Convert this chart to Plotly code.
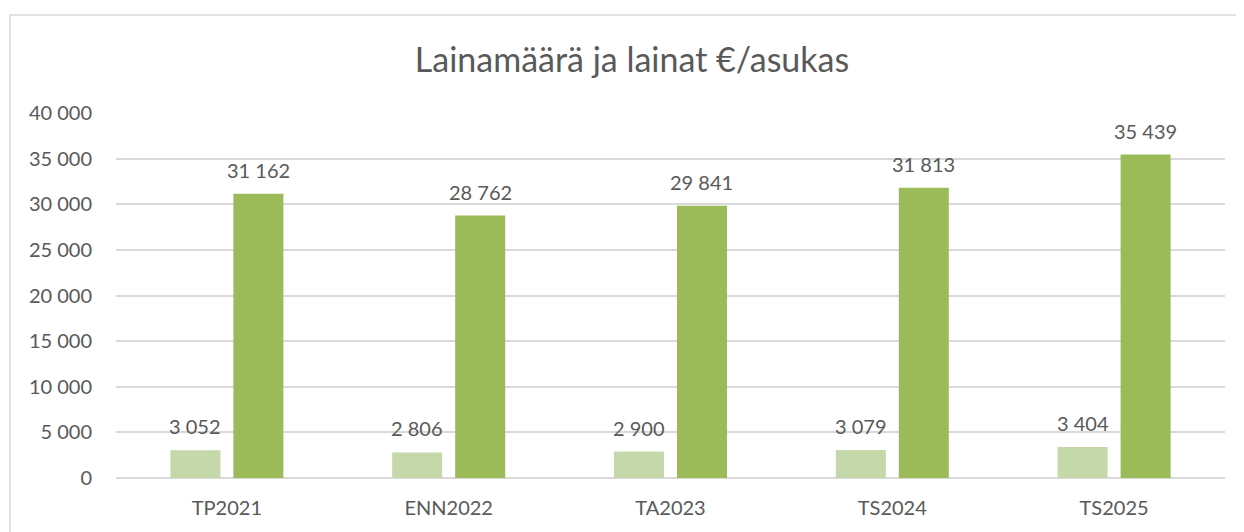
import plotly.graph_objects as go

categories = ["TP2021", "ENN2022", "TA2023", "TS2024", "TS2025"]
lainat_per_asukas = [3052, 2806, 2900, 3079, 3404]
lainamaara = [31162, 28762, 29841, 31813, 35439]
y_ticks = [0, 5000, 10000, 15000, 20000, 25000, 30000, 35000, 40000]


def fmt(v):
    return f"{v:,}".replace(",", " ")


y_tick_labels = [fmt(v) for v in y_ticks]

FONT = "Lato, 'Open Sans', sans-serif"
TXT = "#595959"

# page body has an 8px default margin; compensate
OFF = 8
W, H = 1244 - OFF, 532 - OFF
L, R, T, B = 116 - OFF, 19, 113 - OFF, 54
PW = 1244 - 116 - 19
PH = 478 - 113
BARGAP = 0.432
GROUPGAP = 0.206
SLOT = PW / len(categories) * (1 - BARGAP) / 2  # px per bar slot

fig = go.Figure()
fig.add_trace(go.Bar(
    x=categories, y=lainat_per_asukas, name="€/asukas",
    marker=dict(color="#C5D8A9", line=dict(width=0)),
))
fig.add_trace(go.Bar(
    x=categories, y=lainamaara, name="Lainamäärä",
    marker=dict(color="#9BBB59", line=dict(width=0)),
))

# data labels
for series, shift in ((lainat_per_asukas, -SLOT / 2), (lainamaara, SLOT / 2)):
    for c, v in zip(categories, series):
        fig.add_annotation(x=c, y=v, text=fmt(v), showarrow=False,
                           xshift=shift, yshift=24, yanchor="middle",
                           font=dict(family=FONT, size=20, color=TXT))

fig.update_layout(
    width=W, height=H,
    margin=dict(l=L, r=R, t=T, b=B, autoexpand=False),
    paper_bgcolor="white", plot_bgcolor="white",
    barmode="group", bargap=BARGAP, bargroupgap=GROUPGAP,
    showlegend=False,
    font=dict(family=FONT, color=TXT),
    title=dict(text="Lainamäärä ja lainat €/asukas", x=(632 - OFF) / W, xanchor="center",
               y=1 - (60 - OFF) / H, yanchor="middle", yref="container",
               font=dict(family=FONT, size=34, color=TXT)),
    xaxis=dict(showgrid=False, showline=False, ticks="", zeroline=False,
               ticklabelstandoff=16,
               tickfont=dict(family=FONT, size=20, color=TXT)),
    yaxis=dict(range=[0, 40000], tickvals=y_ticks, ticktext=y_tick_labels,
               showgrid=True, gridcolor="#D9D9D9", gridwidth=1.5,
               zeroline=True, zerolinecolor="#D9D9D9", zerolinewidth=1.5,
               showline=False, ticks="", ticklabelstandoff=23,
               tickfont=dict(family=FONT, size=20, color=TXT)),
)

# chart area border (Excel-style frame)
fig.add_shape(type="rect", xref="paper", yref="paper",
              x0=(10 - 116) / PW, x1=(1260 - 116) / PW,
              y0=(478 - 560) / PH, y1=(478 - 15) / PH,
              line=dict(color="#D9D9D9", width=1.5), layer="below")

fig.write_html("out.html")
